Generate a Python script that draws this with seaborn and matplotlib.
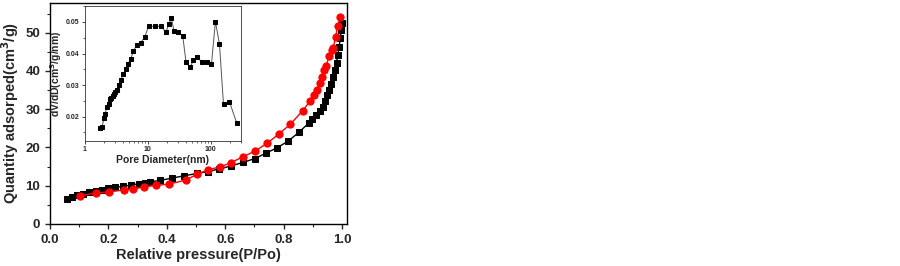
import matplotlib
matplotlib.use("Agg")
import matplotlib.pyplot as plt
import matplotlib.ticker as mticker
import seaborn as sns

# Isotherm: adsorption branch (black squares)
ads_p = [0.057, 0.074, 0.094, 0.114, 0.135, 0.158, 0.177, 0.200, 0.223, 0.251,
         0.277, 0.303, 0.326, 0.343, 0.377, 0.419, 0.459, 0.503, 0.541, 0.579,
         0.621, 0.661, 0.701, 0.739, 0.777, 0.816, 0.854, 0.886, 0.898, 0.912,
         0.923, 0.933, 0.941, 0.949, 0.955, 0.962, 0.969, 0.975, 0.981, 0.985,
         0.990, 0.994, 0.997, 0.999]
ads_q = [6.5, 7.0, 7.6, 7.9, 8.3, 8.7, 9.0, 9.3, 9.6, 9.8,
         10.2, 10.5, 10.7, 11.0, 11.4, 12.0, 12.6, 13.2, 13.7, 14.4,
         15.2, 16.1, 17.1, 18.5, 19.9, 21.7, 24.1, 26.4, 27.4, 28.5,
         29.6, 30.7, 32.2, 33.7, 35.1, 36.6, 38.4, 40.2, 42.1, 44.1,
         46.3, 48.5, 50.7, 52.6]

# Desorption branch (red circles)
des_p = [0.103, 0.157, 0.203, 0.254, 0.283, 0.322, 0.362, 0.406, 0.466, 0.503,
         0.542, 0.581, 0.619, 0.661, 0.703, 0.743, 0.783, 0.823, 0.865, 0.891,
         0.903, 0.914, 0.923, 0.930, 0.939, 0.946, 0.955, 0.966, 0.969, 0.978,
         0.985, 0.994]
des_q = [7.4, 8.1, 8.4, 8.9, 9.1, 9.7, 10.1, 10.4, 11.5, 13.0,
         14.2, 14.9, 16.0, 17.6, 19.1, 21.1, 23.5, 26.1, 29.6, 32.2,
         33.6, 35.1, 36.8, 38.4, 40.2, 41.4, 43.8, 45.4, 45.9, 48.9,
         51.8, 54.2]

# Inset: pore size distribution
pore_d = [1.73, 1.87, 2.01, 2.11, 2.21, 2.38, 2.50, 2.63, 2.76, 2.90,
          3.04, 3.19, 3.44, 3.70, 4.08, 4.50, 4.84, 5.34, 5.89, 6.65,
          7.70, 8.91, 10.3, 12.9, 16.0, 19.5, 21.5, 23.7, 26.1, 30.3,
          35.9, 40.6, 47.0, 53.1, 61.5, 73.0, 86.5, 103, 119, 138,
          160, 199, 260]
dvdd = [0.0165, 0.0168, 0.0195, 0.0210, 0.0230, 0.0240, 0.0255, 0.0259, 0.0265, 0.0272,
        0.0277, 0.0284, 0.0299, 0.0316, 0.0335, 0.0351, 0.0366, 0.0383, 0.0407, 0.0427,
        0.0434, 0.0452, 0.0486, 0.0486, 0.0486, 0.0468, 0.0493, 0.0512, 0.0471, 0.0467,
        0.0456, 0.0372, 0.0356, 0.0379, 0.0388, 0.0372, 0.0372, 0.0367, 0.0501, 0.0430,
        0.0239, 0.0247, 0.0180]

sns.set_style("ticks")
plt.rcParams["font.family"] = ["Liberation Sans", "DejaVu Sans"]
plt.rcParams["font.weight"] = "bold"
plt.rcParams["axes.labelweight"] = "bold"
plt.rcParams["mathtext.default"] = "bf"

fig = plt.figure(figsize=(9, 2.66), dpi=100)

# main isotherm
ax = fig.add_axes([0.0556, 0.158, 0.330, 0.831])
sns.lineplot(x=ads_p, y=ads_q, ax=ax, color="black", marker="s", markersize=4.4,
             markeredgecolor="black", linewidth=1)
sns.lineplot(x=des_p, y=des_q, ax=ax, color="red", marker="o", markersize=5.2,
             markeredgecolor="red", linewidth=1)
ax.set_xlim(0, 1.017)
ax.set_ylim(0, 57.8)
ax.xaxis.set_major_locator(mticker.MultipleLocator(0.2))
ax.xaxis.set_minor_locator(mticker.MultipleLocator(0.1))
ax.yaxis.set_major_locator(mticker.MultipleLocator(10))
ax.yaxis.set_minor_locator(mticker.MultipleLocator(5))
ax.xaxis.set_major_formatter(mticker.FormatStrFormatter("%.1f"))
ax.tick_params(which="major", direction="out", length=3.5, width=1, labelsize=9.5)
ax.tick_params(which="minor", direction="out", length=2, width=0.8)
ax.set_xlabel("Relative pressure(P/Po)", fontsize=10.5, fontweight="bold", labelpad=2)
ax.set_ylabel("Quantity adsorped(cm$^3$/g)", fontsize=10.5, fontweight="bold", labelpad=3)
for s in ax.spines.values():
    s.set_linewidth(1)
    s.set_color("black")

# inset pore size distribution
ins = fig.add_axes([0.0944, 0.471, 0.173, 0.506])
sns.lineplot(x=pore_d, y=dvdd, ax=ins, color="#555555", linewidth=0.7,
             marker="s", markersize=2.6, markerfacecolor="black",
             markeredgecolor="black")
ins.set_xscale("log")
ins.set_xlim(1, 300)
ins.set_ylim(0.0124, 0.055)
ins.yaxis.set_major_locator(mticker.MultipleLocator(0.01))
ins.yaxis.set_minor_locator(mticker.MultipleLocator(0.005))
ins.xaxis.set_major_formatter(mticker.FuncFormatter(lambda v, p: f"{v:g}"))
ins.tick_params(which="major", direction="out", length=2.5, width=0.6, labelsize=5, pad=1.5)
ins.tick_params(which="minor", direction="out", length=1.5, width=0.5)
ins.set_xlabel("Pore Diameter(nm)", fontsize=7.5, fontweight="bold", labelpad=1)
ins.set_ylabel("dV/dD(cm$^3$/g/nm)", fontsize=7.5, fontweight="bold", labelpad=1)
for s in ins.spines.values():
    s.set_linewidth(0.6)
    s.set_color("#333333")

fig.savefig("out.png", dpi=100)
